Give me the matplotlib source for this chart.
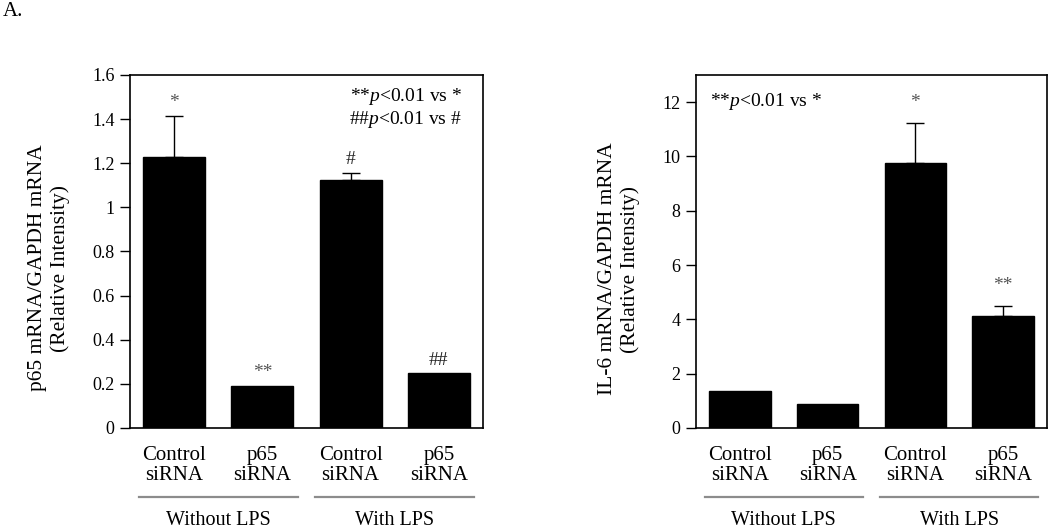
import matplotlib
matplotlib.use("Agg")
import matplotlib.pyplot as plt
import matplotlib.transforms as mtransforms
import numpy as np

plt.rcParams['font.family'] = ['Liberation Serif', 'DejaVu Serif']
plt.rcParams['mathtext.fontset'] = 'custom'
plt.rcParams['mathtext.rm'] = 'Liberation Serif'
plt.rcParams['mathtext.it'] = 'Liberation Serif:italic'

categories = ["Control\nsiRNA", "p65\nsiRNA", "Control\nsiRNA", "p65\nsiRNA"]
groups = ["Without LPS", "With LPS"]

p65_values = [1.23, 0.19, 1.123, 0.248]
p65_errors = [0.185, 0.0, 0.035, 0.0]
p65_marks = ["*", "**", "#", "##"]
p65_yticks = [0, 0.2, 0.4, 0.6, 0.8, 1, 1.2, 1.4, 1.6]
p65_yticklabels = ["0", "0.2", "0.4", "0.6", "0.8", "1", "1.2", "1.4", "1.6"]

il6_values = [1.36, 0.90, 9.75, 4.12]
il6_errors = [0.0, 0.0, 1.47, 0.38]
il6_marks = ["", "", "*", "**"]
il6_yticks = [0, 2, 4, 6, 8, 10, 12]
il6_yticklabels = ["0", "2", "4", "6", "8", "10", "12"]

fig = plt.figure(figsize=(10.5, 5.31), dpi=100)
ax1 = fig.add_axes([130/1050, (531-428)/531, 353/1050, 353/531])
ax2 = fig.add_axes([696/1050, (531-428)/531, 351/1050, 353/531])

fig.text(0.003, 0.978, "A.", fontsize=15, ha='left', va='center')


def draw(ax, values, errors, marks, yticks, yticklabels, ymax, ylabel, mark_offset, label_xy):
    x = np.arange(len(values))
    ax.bar(x, values, width=0.7, color='black', edgecolor='black', zorder=2)
    up = np.array(errors)
    mask = up > 0
    ax.errorbar(x[mask], np.array(values)[mask], yerr=[np.zeros(mask.sum()), up[mask]],
                fmt='none', ecolor='black', elinewidth=1.0, capsize=6.5, capthick=1.0, zorder=1)
    for xi, v, e, m in zip(x, values, errors, marks):
        if not m:
            continue
        col = '#555555' if '*' in m else '#222222'
        ax.text(xi, v + e + mark_offset, m, ha='center', va='center', fontsize=14, color=col)
    ax.set_xlim(-0.5, 3.5)
    ax.set_ylim(0, ymax)
    ax.set_yticks(yticks)
    ax.set_yticklabels(yticklabels, fontsize=13)
    ax.set_xticks(x)
    ax.set_xticklabels(categories, fontsize=15, linespacing=1.1)
    ax.tick_params(axis='x', length=0, pad=13)
    ax.tick_params(axis='y', direction='out', length=7, width=1.0, pad=4)
    for s in ax.spines.values():
        s.set_linewidth(1.2)
    ax.set_ylabel(ylabel, fontsize=15.5, linespacing=1.2)
    ax.yaxis.set_label_coords(*label_xy)
    trans = mtransforms.blended_transform_factory(ax.transData, ax.transAxes)
    for (a, b), g in zip([(-0.4, 1.4), (1.6, 3.4)], groups):
        ax.plot([a, b], [-0.195, -0.195], color='#8c8c8c', lw=1.6, transform=trans, clip_on=False)
        ax.text((a + b) / 2, -0.262, g, transform=trans, ha='center', va='center', fontsize=14.5)


draw(ax1, p65_values, p65_errors, p65_marks, p65_yticks, p65_yticklabels, 1.6,
     "p65 mRNA/GAPDH mRNA\n(Relative Intensity)", 0.06, (-0.17, 0.453))
ax1.text(0.94, 0.94, "**$p$<0.01 vs *", transform=ax1.transAxes, ha='right', va='center', fontsize=14)
ax1.text(0.94, 0.875, "##$p$<0.01 vs #", transform=ax1.transAxes, ha='right', va='center', fontsize=14)

draw(ax2, il6_values, il6_errors, il6_marks, il6_yticks, il6_yticklabels, 13,
     "IL-6 mRNA/GAPDH mRNA\n(Relative Intensity)", 0.75, (-0.16, 0.45))
ax2.text(0.04, 0.925, "**$p$<0.01 vs *", transform=ax2.transAxes, ha='left', va='center', fontsize=14)

fig.savefig("out.png", dpi=100)
